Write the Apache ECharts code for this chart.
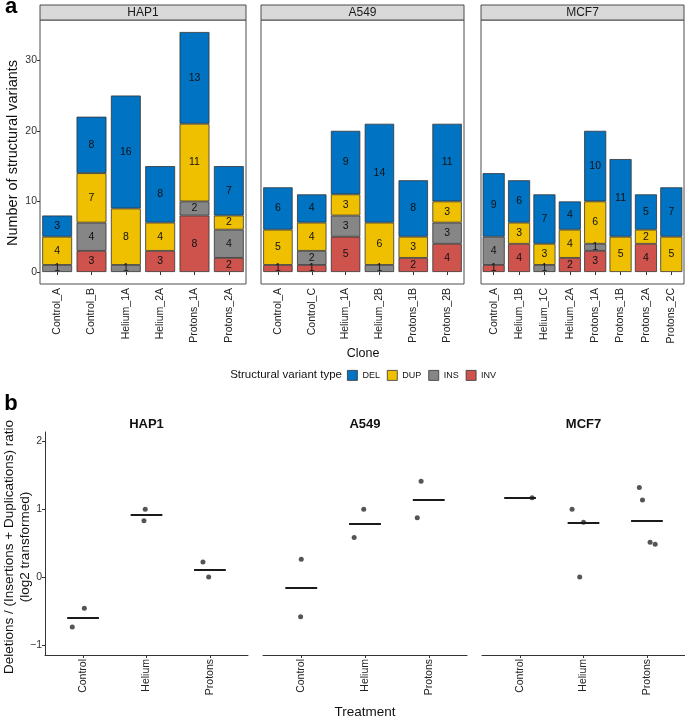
<!DOCTYPE html>
<html>
<head>
<meta charset="utf-8">
<script src="https://cdn.jsdelivr.net/npm/echarts@6/dist/echarts.min.js"></script>
<style>html,body{margin:0;padding:0;background:#fff;}#c{width:685px;height:719px;}</style>
</head>
<body>
<div id="c"></div>
<script>
// ---------- Panel a data ----------
const cellLines = ['HAP1', 'A549', 'MCF7'];
const svTypes = ['DEL', 'DUP', 'INS', 'INV'];
const svColors = {DEL: '#0073C2', DUP: '#EFC000', INS: '#868686', INV: '#CD534C'};

const clonesHAP1 = ['Control_A', 'Control_B', 'Helium_1A', 'Helium_2A', 'Protons_1A', 'Protons_2A'];
const delHAP1 = [3, 8, 16, 8, 13, 7];
const dupHAP1 = [4, 7, 8, 4, 11, 2];
const insHAP1 = [1, 4, 1, 0, 2, 4];
const invHAP1 = [0, 3, 0, 3, 8, 2];

const clonesA549 = ['Control_A', 'Control_C', 'Helium_1A', 'Helium_2B', 'Protons_1B', 'Protons_2B'];
const delA549 = [6, 4, 9, 14, 8, 11];
const dupA549 = [5, 4, 3, 6, 3, 3];
const insA549 = [0, 2, 3, 1, 0, 3];
const invA549 = [1, 1, 5, 0, 2, 4];

const clonesMCF7 = ['Control_A', 'Helium_1B', 'Helium_1C', 'Helium_2A', 'Protons_1A', 'Protons_1B', 'Protons_2A', 'Protons_2C'];
const delMCF7 = [9, 6, 7, 4, 10, 11, 5, 7];
const dupMCF7 = [0, 3, 3, 4, 6, 5, 2, 5];
const insMCF7 = [4, 0, 1, 0, 1, 0, 0, 0];
const invMCF7 = [1, 4, 0, 2, 3, 0, 4, 0];

const countTicks = [0, 10, 20, 30];

// ---------- Panel b data ----------
const treatments = ['Control', 'Helium', 'Protons'];
const ratioTicks = [-1, 0, 1, 2];
// points: [treatment position incl. jitter, log2 ratio]
const ptsHAP1 = [[0.02, -0.459], [-0.17, -0.737], [0.98, 1.0], [0.96, 0.830], [1.89, 0.222], [1.98, 0.0]];
const ptsA549 = [[0.0, 0.263], [-0.01, -0.585], [0.98, 1.0], [0.83, 0.585], [1.88, 1.415], [1.82, 0.874]];
const ptsMCF7 = [[0.19, 1.170], [0.82, 1.0], [1.0, 0.807], [0.94, 0.0], [1.88, 1.322], [1.93, 1.138], [2.05, 0.515], [2.13, 0.485]];
const medHAP1 = [-0.598, 0.915, 0.111];
const medA549 = [-0.161, 0.793, 1.144];
const medMCF7 = [1.170, 0.807, 0.826];

// ---------- layout ----------
const FONT = 'Liberation Sans, Arial, Helvetica, sans-serif';
const gridsA = [
  {left: 40, top: 20, width: 206, height: 264},
  {left: 261, top: 20, width: 203, height: 264},
  {left: 481, top: 20, width: 203, height: 264}
];
const gridsB = [
  {left: 45, top: 432, width: 203, height: 223},
  {left: 263, top: 432, width: 204, height: 223},
  {left: 482, top: 432, width: 203, height: 223}
];

const barData = [
  {clones: clonesHAP1, DEL: delHAP1, DUP: dupHAP1, INS: insHAP1, INV: invHAP1},
  {clones: clonesA549, DEL: delA549, DUP: dupA549, INS: insA549, INV: invA549},
  {clones: clonesMCF7, DEL: delMCF7, DUP: dupMCF7, INS: insMCF7, INV: invMCF7}
];
const ptData = [ptsHAP1, ptsA549, ptsMCF7];
const medData = [medHAP1, medA549, medMCF7];

const grid = [];
const xAxis = [];
const yAxis = [];
const series = [];
const graphic = [];

gridsA.forEach((g, i) => {
  grid.push(Object.assign({show: true, borderColor: '#4d4d4d', borderWidth: 1, backgroundColor: '#fff'}, g));
  xAxis.push({
    type: 'category', gridIndex: i, data: barData[i].clones,
    axisLine: {show: false},
    axisTick: {show: true, alignWithLabel: true, length: 3, lineStyle: {color: '#333'}},
    axisLabel: {rotate: 90, interval: 0, fontSize: 10.5, color: '#222', margin: 4, fontFamily: FONT},
    splitLine: {show: false}
  });
  yAxis.push({
    type: 'value', gridIndex: i, min: -1.7, max: 35.7,
    axisLine: {show: false},
    axisTick: {show: i === 0, length: 3, customValues: countTicks, lineStyle: {color: '#333'}},
    axisLabel: {show: i === 0, customValues: countTicks, fontSize: 10.5, color: '#333', margin: 3, fontFamily: FONT},
    splitLine: {show: false}
  });
  ['INV', 'INS', 'DUP', 'DEL'].forEach(t => {
    series.push({
      type: 'bar', name: t, xAxisIndex: i, yAxisIndex: i, stack: 'sv' + i,
      barWidth: '87%',
      data: barData[i][t].map(v => v > 0 ? v : '-'),
      itemStyle: {color: svColors[t], borderColor: '#333', borderWidth: 0.8},
      label: {show: true, position: 'inside', fontSize: 10.5, color: '#111', fontFamily: FONT},
      emphasis: {disabled: true},
      animation: false
    });
  });
  graphic.push({
    type: 'rect', shape: {x: g.left, y: 5, width: g.width, height: 15},
    style: {fill: '#D9D9D9', stroke: '#4d4d4d', lineWidth: 1}
  });
  graphic.push({
    type: 'text', x: g.left + g.width / 2, y: 12.5,
    style: {text: cellLines[i], fontSize: 12, fill: '#1a1a1a', align: 'center', verticalAlign: 'middle', fontFamily: FONT}
  });
});

gridsB.forEach((g, j) => {
  const gi = j + 3;
  grid.push(Object.assign({show: false}, g));
  xAxis.push({
    type: 'value', gridIndex: gi, min: -0.6, max: 2.6,
    axisLine: {show: true, onZero: false, lineStyle: {color: '#333', width: 1}},
    axisTick: {show: true, length: 3, customValues: [0, 1, 2], lineStyle: {color: '#333'}},
    axisLabel: {customValues: [0, 1, 2], formatter: v => treatments[Math.round(v)], rotate: 90, fontSize: 10.5, color: '#222', margin: 4, fontFamily: FONT},
    splitLine: {show: false}
  });
  yAxis.push({
    type: 'value', gridIndex: gi, min: -1.15, max: 2.14,
    axisLine: {show: j === 0, onZero: false, lineStyle: {color: '#333', width: 1}},
    axisTick: {show: j === 0, length: 3, customValues: ratioTicks, lineStyle: {color: '#333'}},
    axisLabel: {show: j === 0, customValues: ratioTicks, formatter: v => (v < 0 ? '\u2212' + Math.abs(v) : String(v)), fontSize: 10.5, color: '#333', margin: 3, fontFamily: FONT},
    splitLine: {show: false}
  });
  series.push({
    type: 'scatter', xAxisIndex: gi, yAxisIndex: gi,
    data: ptData[j], symbolSize: 5,
    itemStyle: {color: '#2b2b2b'},
    emphasis: {disabled: true},
    animation: false,
    markLine: {
      silent: true, symbol: 'none', animation: false,
      label: {show: false},
      lineStyle: {color: '#1a1a1a', width: 2, type: 'solid'},
      data: medData[j].map((m, k) => [{coord: [k - 0.25, m]}, {coord: [k + 0.25, m]}])
    }
  });
  graphic.push({
    type: 'text', x: g.left + g.width / 2, y: 424,
    style: {text: cellLines[j], fontSize: 13, fontWeight: 'bold', fill: '#111', align: 'center', verticalAlign: 'middle', fontFamily: FONT}
  });
});

// titles and labels
graphic.push(
  {type: 'text', x: 11, y: 7, style: {text: 'a', fontSize: 22, fontWeight: 'bold', fill: '#000', align: 'center', verticalAlign: 'middle', fontFamily: FONT}},
  {type: 'text', x: 11, y: 404, style: {text: 'b', fontSize: 22, fontWeight: 'bold', fill: '#000', align: 'center', verticalAlign: 'middle', fontFamily: FONT}},
  {type: 'text', x: 13, y: 153, rotation: Math.PI / 2, style: {text: 'Number of structural variants', fontSize: 14.5, fill: '#111', align: 'center', verticalAlign: 'middle', fontFamily: FONT}},
  {type: 'text', x: 363, y: 354, style: {text: 'Clone', fontSize: 12.5, fill: '#111', align: 'center', verticalAlign: 'middle', fontFamily: FONT}},
  {type: 'text', x: 342, y: 375, style: {text: 'Structural variant type', fontSize: 11.5, fill: '#111', align: 'right', verticalAlign: 'middle', fontFamily: FONT}},
  {type: 'text', x: 9, y: 547, rotation: Math.PI / 2, style: {text: 'Deletions / (Insertions + Duplications) ratio', fontSize: 13.5, fill: '#111', align: 'center', verticalAlign: 'middle', fontFamily: FONT}},
  {type: 'text', x: 25, y: 547, rotation: Math.PI / 2, style: {text: '(log2 transformed)', fontSize: 13.5, fill: '#111', align: 'center', verticalAlign: 'middle', fontFamily: FONT}},
  {type: 'text', x: 365, y: 712, style: {text: 'Treatment', fontSize: 13.5, fill: '#111', align: 'center', verticalAlign: 'middle', fontFamily: FONT}}
);

const chart = echarts.init(document.getElementById('c'), null, {renderer: 'canvas'});
chart.setOption({
  animation: false,
  backgroundColor: '#fff',
  textStyle: {fontFamily: FONT},
  legend: {
    data: svTypes.map(t => ({name: t, itemStyle: {color: svColors[t], borderColor: '#333', borderWidth: 0.8}})),
    left: 342, top: 365, icon: 'rect', itemWidth: 10, itemHeight: 10, itemGap: 7,
    selectedMode: false,
    textStyle: {fontSize: 9, color: '#111', fontFamily: FONT}
  },
  grid, xAxis, yAxis, series, graphic
});
</script>
</body>
</html>
